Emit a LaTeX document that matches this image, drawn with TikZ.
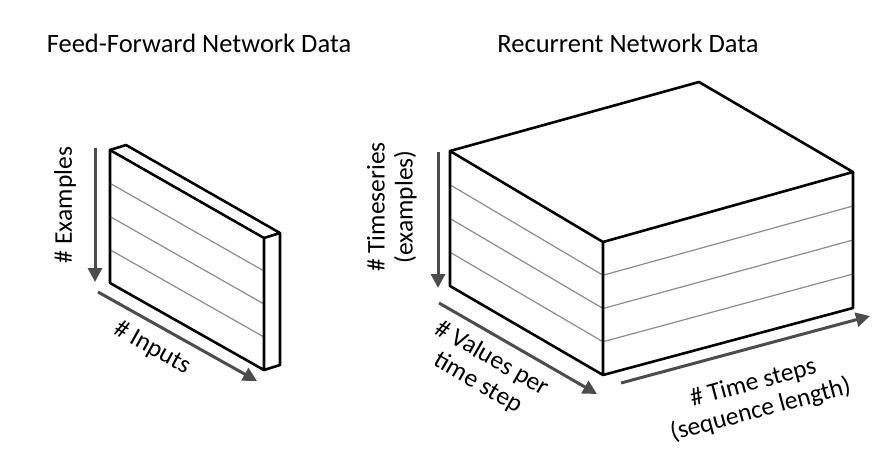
\documentclass[tikz,border=0pt]{standalone}
\usepackage{fontspec}
\setmainfont{Carlito}
\usetikzlibrary{arrows.meta, calc}

\begin{document}
\begin{tikzpicture}
[x=1pt, y=-1pt,
 edge/.style={line width=2.6pt, line join=round},
 band/.style={line width=1.2pt, draw=black!45},
 dim/.style={line width=3pt, draw=black!70, arrows={-Triangle[length=14pt, width=14pt, fill=black!70]}},
 heading/.style={font=\fontsize{26.5}{30}\selectfont},
 lbl/.style={font=\fontsize{25.5}{28}\selectfont, align=center, inner sep=0pt}]
\useasboundingbox (0,0) rectangle (888,455);

% titles
\node[heading] (fftitle) at (199,43) {Feed-Forward Network Data};
\node[heading] (rntitle) at (628,43) {Recurrent Network Data};

% feed-forward slab
\coordinate (fa) at (110,150);
\coordinate (fb) at (264,238);
\coordinate (fc) at (264,370);
\coordinate (fd) at (110,283);
\coordinate (fe) at (126,145);
\coordinate (ff) at (280,233);
\coordinate (fg) at (280,365);
\foreach \t in {0.25,0.5,0.75}
  \draw[band] ($(fa)!\t!(fd)$) -- ($(fb)!\t!(fc)$);
\draw[edge] (fa) -- (fb) -- (fc) -- (fd) -- cycle;
\draw[edge] (fa) -- (fe) -- (ff) -- (fb);
\draw[edge] (ff) -- (fg) -- (fc);

% recurrent box
\coordinate (ra) at (450,151);
\coordinate (rb) at (603,242);
\coordinate (rc) at (603,375);
\coordinate (rd) at (450,286);
\coordinate (re) at (699,82);
\coordinate (rf) at (853,172);
\coordinate (rg) at (853,308);
\foreach \t in {0.25,0.5,0.75} {
  \draw[band] ($(ra)!\t!(rd)$) -- ($(rb)!\t!(rc)$);
  \draw[band] ($(rb)!\t!(rc)$) -- ($(rf)!\t!(rg)$);
}
\draw[edge] (ra) -- (rb) -- (rc) -- (rd) -- cycle;
\draw[edge] (ra) -- (re) -- (rf) -- (rb);
\draw[edge] (rf) -- (rg) -- (rc);

% dimension arrows
\coordinate (exs) at (95,148);
\coordinate (exe) at (95,282);
\coordinate (ins) at (98,292);
\coordinate (ine) at (257,381);
\coordinate (tss) at (438,152);
\coordinate (tse) at (438,288);
\coordinate (vps) at (439,303);
\coordinate (vpe) at (597,394);
\coordinate (sts) at (621,383);
\coordinate (ste) at (870,316);
\draw[dim] (exs) -- (exe);
\draw[dim] (ins) -- (ine);
\draw[dim] (tss) -- (tse);
\draw[dim] (vps) -- (vpe);
\draw[dim] (sts) -- (ste);

% labels
\node[lbl, rotate=90] (exlbl) at (65,205) {\# Examples};
\node[lbl, rotate=-29] (inlbl) at (152,348) {\# Inputs};
\node[lbl, rotate=90] (tslbl) at (392,207) {\# Timeseries\\(examples)};
\node[lbl, rotate=-30] (vplbl) at (485,371) {\# Values per\\time step};
\node[lbl, rotate=15] (stlbl) at (757,397) {\# Time steps\\(sequence length)};
\end{tikzpicture}
\end{document}
